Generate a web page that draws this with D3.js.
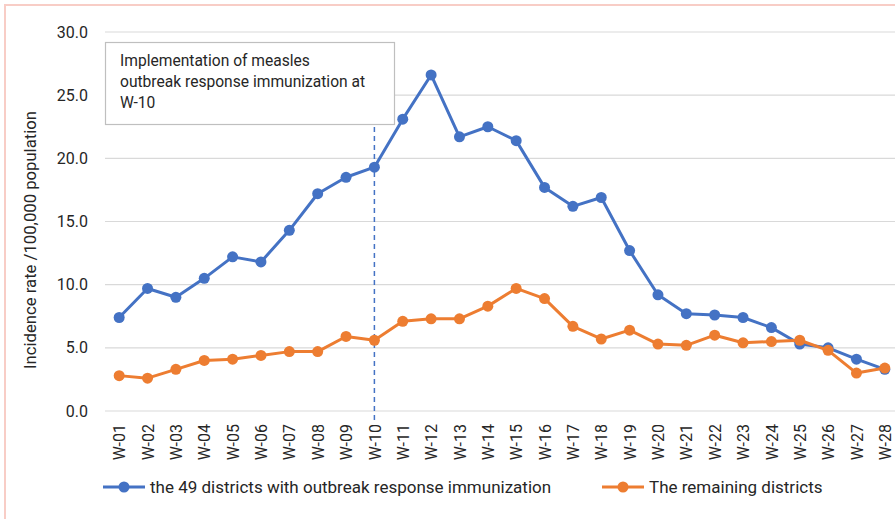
<!DOCTYPE html>
<html>
<head>
<meta charset="utf-8">
<script src="https://cdn.jsdelivr.net/npm/d3@7"></script>
<style>
  body { margin: 0; background: #fff; }
  svg text { font-family: Roboto, "Noto Sans", sans-serif; fill: #262626; }
</style>
</head>
<body>
<div id="chart"></div>
<script>
var weeks = ['W-01','W-02','W-03','W-04','W-05','W-06','W-07','W-08','W-09','W-10',
             'W-11','W-12','W-13','W-14','W-15','W-16','W-17','W-18','W-19','W-20',
             'W-21','W-22','W-23','W-24','W-25','W-26','W-27','W-28'];

var orDistricts = [7.4, 9.7, 9.0, 10.5, 12.2, 11.8, 14.3, 17.2, 18.5, 19.3,
                   23.1, 26.6, 21.7, 22.5, 21.4, 17.7, 16.2, 16.9, 12.7, 9.2,
                   7.7, 7.6, 7.4, 6.6, 5.3, 5.0, 4.1, 3.3];

var otherDistricts = [2.8, 2.6, 3.3, 4.0, 4.1, 4.4, 4.7, 4.7, 5.9, 5.6,
                      7.1, 7.3, 7.3, 8.3, 9.7, 8.9, 6.7, 5.7, 6.4, 5.3,
                      5.2, 6.0, 5.4, 5.5, 5.6, 4.8, 3.0, 3.4];

var seriesNames = ['the 49 districts with outbreak response immunization', 'The remaining districts'];
var seriesColors = ['#4472c4', '#ed7d31'];
var yTicks = [0, 5, 10, 15, 20, 25, 30];
var noteLines = ['Implementation of measles', 'outbreak response immunization at', 'W-10'];
var markWeek = 'W-10';

var W = 895, H = 519;
var margin = {top: 32, right: -4, bottom: 108, left: 105}
    , width = W - margin.left - margin.right
    , height = H - margin.top - margin.bottom;

var svg = d3.select('#chart')
    .append('svg')
    .attr('width', W)
    .attr('height', H);

// outer frame
svg.append('rect')
    .attr('x', 5).attr('y', 5)
    .attr('width', W + 20).attr('height', H + 20)
    .attr('fill', 'none')
    .attr('stroke', '#f8cdc6')
    .attr('stroke-width', 2);

var main = svg.append('g')
    .attr('transform', 'translate(' + margin.left + ',' + margin.top + ')');

var x = d3.scalePoint()
    .domain(weeks)
    .range([0, width])
    .padding(0.5);

var y = d3.scaleLinear()
    .domain([0, 30])
    .range([height, 0]);

// gridlines
main.append('g')
    .selectAll('line')
    .data(yTicks)
    .enter()
    .append('line')
    .attr('x1', 0).attr('x2', width)
    .attr('y1', function (d) { return y(d); })
    .attr('y2', function (d) { return y(d); })
    .attr('stroke', '#d9d9d9')
    .attr('stroke-width', 1.2);

// y axis
var yAxis = d3.axisLeft(y)
    .tickValues(yTicks)
    .tickFormat(d3.format('.1f'))
    .tickSize(0)
    .tickPadding(17);

main.append('g')
    .call(yAxis)
    .call(function (g) { g.select('.domain').remove(); })
    .selectAll('text')
    .attr('font-size', 16)
    .attr('font-family', 'Roboto');

// x axis
var xAxis = d3.axisBottom(x).tickSize(0).tickPadding(0);

main.append('g')
    .attr('transform', 'translate(0,' + height + ')')
    .call(xAxis)
    .call(function (g) { g.select('.domain').remove(); })
    .selectAll('text')
    .attr('font-size', 16)
    .attr('font-family', 'Roboto')
    .attr('text-anchor', 'end')
    .attr('dy', '0.35em')
    .attr('transform', 'translate(0,13) rotate(-90)');

// y axis title
svg.append('text')
    .attr('transform', 'translate(36,240) rotate(-90)')
    .attr('text-anchor', 'middle')
    .attr('font-size', 16.7)
    .text('Incidence rate /100,000 population');

// vertical dashed marker
main.append('line')
    .attr('x1', x(markWeek)).attr('x2', x(markWeek))
    .attr('y1', 86).attr('y2', height + 12)
    .attr('stroke', '#4472c4')
    .attr('stroke-width', 1.5)
    .attr('stroke-dasharray', '5,4');

// lines
var line = d3.line()
    .x(function (d, i) { return x(weeks[i]); })
    .y(function (d) { return y(d); });

var allSeries = [orDistricts, otherDistricts];

allSeries.forEach(function (s, k) {
    var g = main.append('g');
    g.append('path')
        .datum(s)
        .attr('d', line)
        .attr('fill', 'none')
        .attr('stroke', seriesColors[k])
        .attr('stroke-width', 3)
        .attr('stroke-linejoin', 'round');
    g.selectAll('circle')
        .data(s)
        .enter()
        .append('circle')
        .attr('cx', function (d, i) { return x(weeks[i]); })
        .attr('cy', function (d) { return y(d); })
        .attr('r', 5.5)
        .attr('fill', seriesColors[k]);
});

// annotation box
var note = svg.append('g');
note.append('rect')
    .attr('x', 105.5).attr('y', 42.5)
    .attr('width', 289).attr('height', 82)
    .attr('fill', '#fff')
    .attr('stroke', '#bfbfbf')
    .attr('stroke-width', 1.2);
note.selectAll('text')
    .data(noteLines)
    .enter()
    .append('text')
    .attr('x', 120)
    .attr('y', function (d, i) { return 66 + i * 20.8; })
    .attr('font-family', '"Noto Sans"')
    .attr('font-size', 15.6)
    .text(function (d) { return d; });

// legend
var legendX = [103, 602];
var legend = svg.append('g');
seriesNames.forEach(function (name, k) {
    var lg = legend.append('g')
        .attr('transform', 'translate(' + legendX[k] + ',487)');
    lg.append('line')
        .attr('x1', 0).attr('x2', 42)
        .attr('stroke', seriesColors[k])
        .attr('stroke-width', 3);
    lg.append('circle')
        .attr('cx', 21).attr('r', 5.5)
        .attr('fill', seriesColors[k]);
    lg.append('text')
        .attr('x', 47)
        .attr('dy', '0.35em')
        .attr('font-size', 17)
        .text(name);
});
</script>
</body>
</html>
